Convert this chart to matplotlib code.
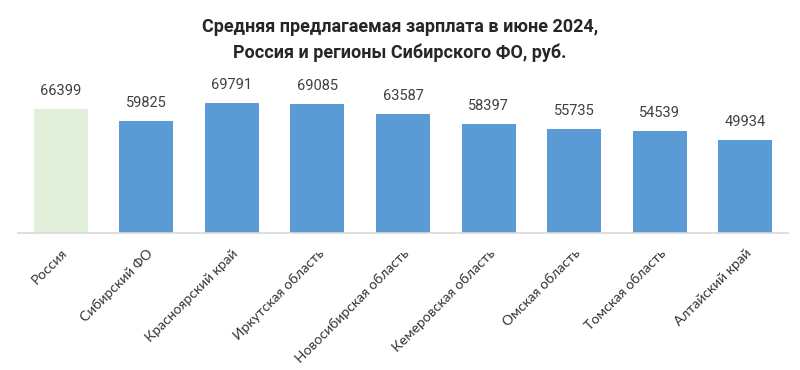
import matplotlib.pyplot as plt

# Данные
regions = ["Россия", "Сибирский ФО", "Красноярский край", "Иркутская область",
           "Новосибирская область", "Кемеровская область", "Омская область",
           "Томская область", "Алтайский край"]
salaries = [66399, 59825, 69791, 69085, 63587, 58397, 55735, 54539, 49934]

colors = ["#E2EFDA"] + ["#5B9BD5"] * (len(regions) - 1)

fig = plt.figure(figsize=(8, 3.7), dpi=100)
ax = fig.add_axes([0.0225, 0.370, 0.9625, 0.404])

x = range(len(regions))
ax.bar(x, salaries, width=0.63, color=colors, zorder=2)

# подписи значений над столбцами
for xi, v in zip(x, salaries):
    ax.annotate(str(v), (xi, v), xytext=(0, 8), textcoords="offset points",
                ha="center", va="bottom", fontsize=10.5, color="#404040",
                family="Roboto")

ax.set_xlim(-0.5, len(regions) - 0.5)
ax.set_ylim(0, 80000)
ax.set_xticks(list(x))
ax.set_xticklabels(regions, rotation=45, ha="right", rotation_mode="anchor",
                   fontsize=10, color="#333333", family="Lato")
ax.tick_params(axis="x", length=0, pad=10)
ax.set_yticks([])
for s in ["top", "right", "left"]:
    ax.spines[s].set_visible(False)
ax.spines["bottom"].set_color("#D9D9D9")
ax.spines["bottom"].set_linewidth(1.2)

fig.text(0.5, 1 - 40 / 370, "Средняя предлагаемая зарплата в июне 2024,\nРоссия и регионы Сибирского ФО, руб.",
         ha="center", va="center", fontsize=13, fontweight="bold",
         family="Roboto", color="#262626", linespacing=1.5)

fig.savefig("out.png", dpi=100)
